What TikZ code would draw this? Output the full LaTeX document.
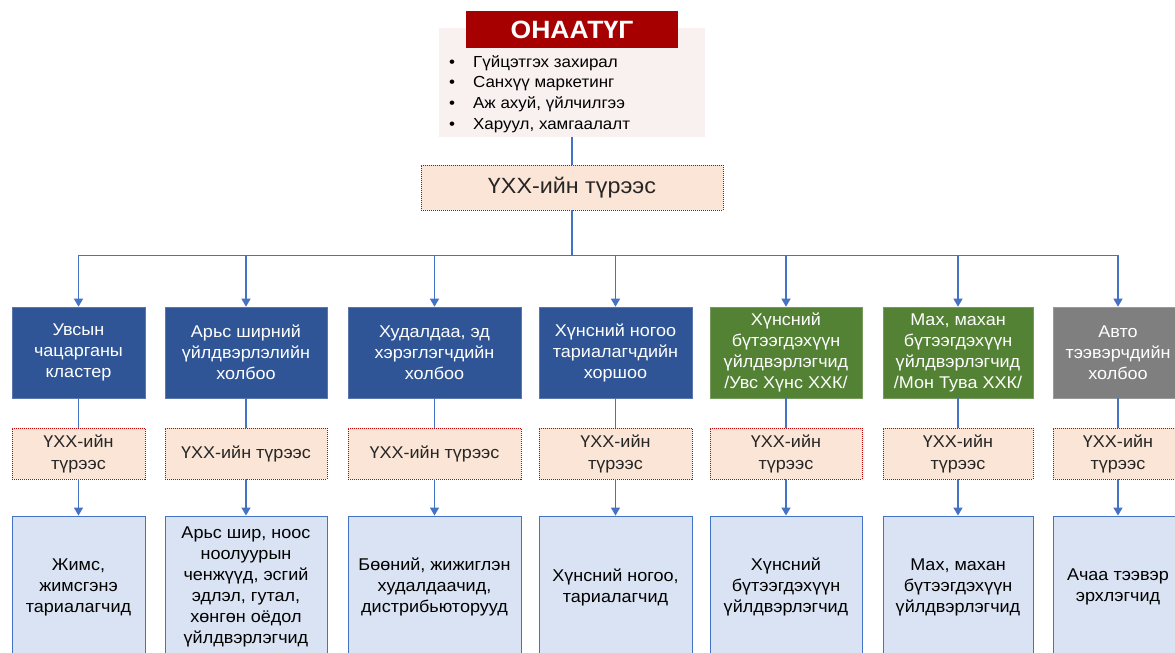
\documentclass[tikz,border=0pt]{standalone}
\usepackage{fontspec}
\setmainfont{Liberation Sans}[FakeStretch=1.06]
\usetikzlibrary{arrows.meta}
\definecolor{titlered}{RGB}{166,0,0}
\definecolor{staffpink}{RGB}{249,240,240}
\definecolor{leasefill}{RGB}{251,229,214}
\definecolor{leasered}{RGB}{192,0,0}
\definecolor{unitblue}{RGB}{47,85,151}
\definecolor{unitgreen}{RGB}{84,130,53}
\definecolor{unitgray}{RGB}{127,127,127}
\definecolor{prodfill}{RGB}{218,227,243}
\definecolor{linkblue}{RGB}{68,114,196}
\begin{document}
\begin{tikzpicture}[x=1pt,y=-1pt,>={Triangle[width=9pt,length=8pt]},
	link/.style={draw=linkblue,line width=1.3pt},
	titlebox/.style={fill=titlered,text=white,minimum width=212pt,minimum height=37pt,inner sep=0pt,font=\fontsize{25}{28}\selectfont\bfseries},
	staffbox/.style={fill=staffpink,minimum width=266pt,minimum height=109pt,inner sep=0pt},
	lease/.style={draw=leasered,fill=leasefill,dash pattern=on 1pt off 1pt,line width=0.9pt,inner sep=0pt,align=center,text=black!85},
	unit/.style={fill=#1,draw=#1!80!white,line width=0.6pt,text=white,minimum height=91pt,inner sep=0pt,align=center,font=\fontsize{17}{21}\selectfont},
	prod/.style={fill=prodfill,draw=linkblue,line width=0.9pt,minimum height=142pt,inner sep=0pt,align=center,font=\fontsize{17}{21}\selectfont}]
	\useasboundingbox (0,0) rectangle (1175,653);
	% ОНААТҮГ
	\node[staffbox] (staff) at (572,82.5) {};
	\node[titlebox] (title) at (572,29.5) {ОНААТҮГ};
	\node[anchor=west,font=\fontsize{16}{20.7}\selectfont,inner sep=0pt] (duties) at (449,94)
		{\begin{tabular}{@{}l@{\hspace{18pt}}l@{}}
			• & Гүйцэтгэх захирал\\
			• & Санхүү маркетинг\\
			• & Аж ахуй, үйлчилгээ\\
			• & Харуул, хамгаалалт
		\end{tabular}};
	\node[lease,minimum width=302pt,minimum height=45pt,font=\fontsize{22}{25}\selectfont] (hub) at (572,187.5) {ҮХХ-ийн түрээс};
	\draw[link] (staff.south) -- (hub.north);
	% багана
	\foreach \i/\l/\r/\clr/\ta/\tb/\tc in {
		1/12/145/unitblue/{Увсын\\чацарганы\\кластер}/{ҮХХ-ийн\\түрээс}/{Жимс,\\жимсгэнэ\\тариалагчид},
		2/165/327/unitblue/{Арьс ширний\\үйлдвэрлэлийн\\холбоо}/{ҮХХ-ийн түрээс}/{Арьс шир, ноос\\ноолуурын\\ченжүүд, эсгий\\эдлэл, гутал,\\хөнгөн оёдол\\үйлдвэрлэгчид},
		3/348/521/unitblue/{Худалдаа, эд\\хэрэглэгчдийн\\холбоо}/{ҮХХ-ийн түрээс}/{Бөөний, жижиглэн\\худалдаачид,\\дистрибьюторууд},
		4/539/692/unitblue/{Хүнсний ногоо\\тариалагчдийн\\хоршоо}/{ҮХХ-ийн\\түрээс}/{Хүнсний ногоо,\\тариалагчид},
		5/710/862/unitgreen/{Хүнсний\\бүтээгдэхүүн\\үйлдвэрлэгчид\\/Увс Хүнс ХХК/}/{ҮХХ-ийн\\түрээс}/{Хүнсний\\бүтээгдэхүүн\\үйлдвэрлэгчид},
		6/883/1033/unitgreen/{Мах, махан\\бүтээгдэхүүн\\үйлдвэрлэгчид\\/Мон Тува ХХК/}/{ҮХХ-ийн\\түрээс}/{Мах, махан\\бүтээгдэхүүн\\үйлдвэрлэгчид},
		7/1053/1183/unitgray/{Авто\\тээвэрчдийн\\холбоо}/{ҮХХ-ийн\\түрээс}/{Ачаа тээвэр\\эрхлэгчид}}{
		\pgfmathsetmacro\cx{(\l+\r)/2}
		\pgfmathsetmacro\w{\r-\l}
		\node[unit=\clr,minimum width=\w pt] (col\i) at (\cx,352.5) {\ta};
		\node[lease,minimum width=\w pt,minimum height=51pt,font=\fontsize{17}{22}\selectfont] (lease\i) at (\cx,453.5) {\tb};
		\node[prod,minimum width=\w pt] (prod\i) at (\cx,587) {\tc};
		\draw[link,->] (hub.south) -- ++(0,45) -| (col\i.north);
		\draw[link] (col\i.south) -- (lease\i.north);
		\draw[link,->] (lease\i.south) -- (prod\i.north);
	}
\end{tikzpicture}
\end{document}
